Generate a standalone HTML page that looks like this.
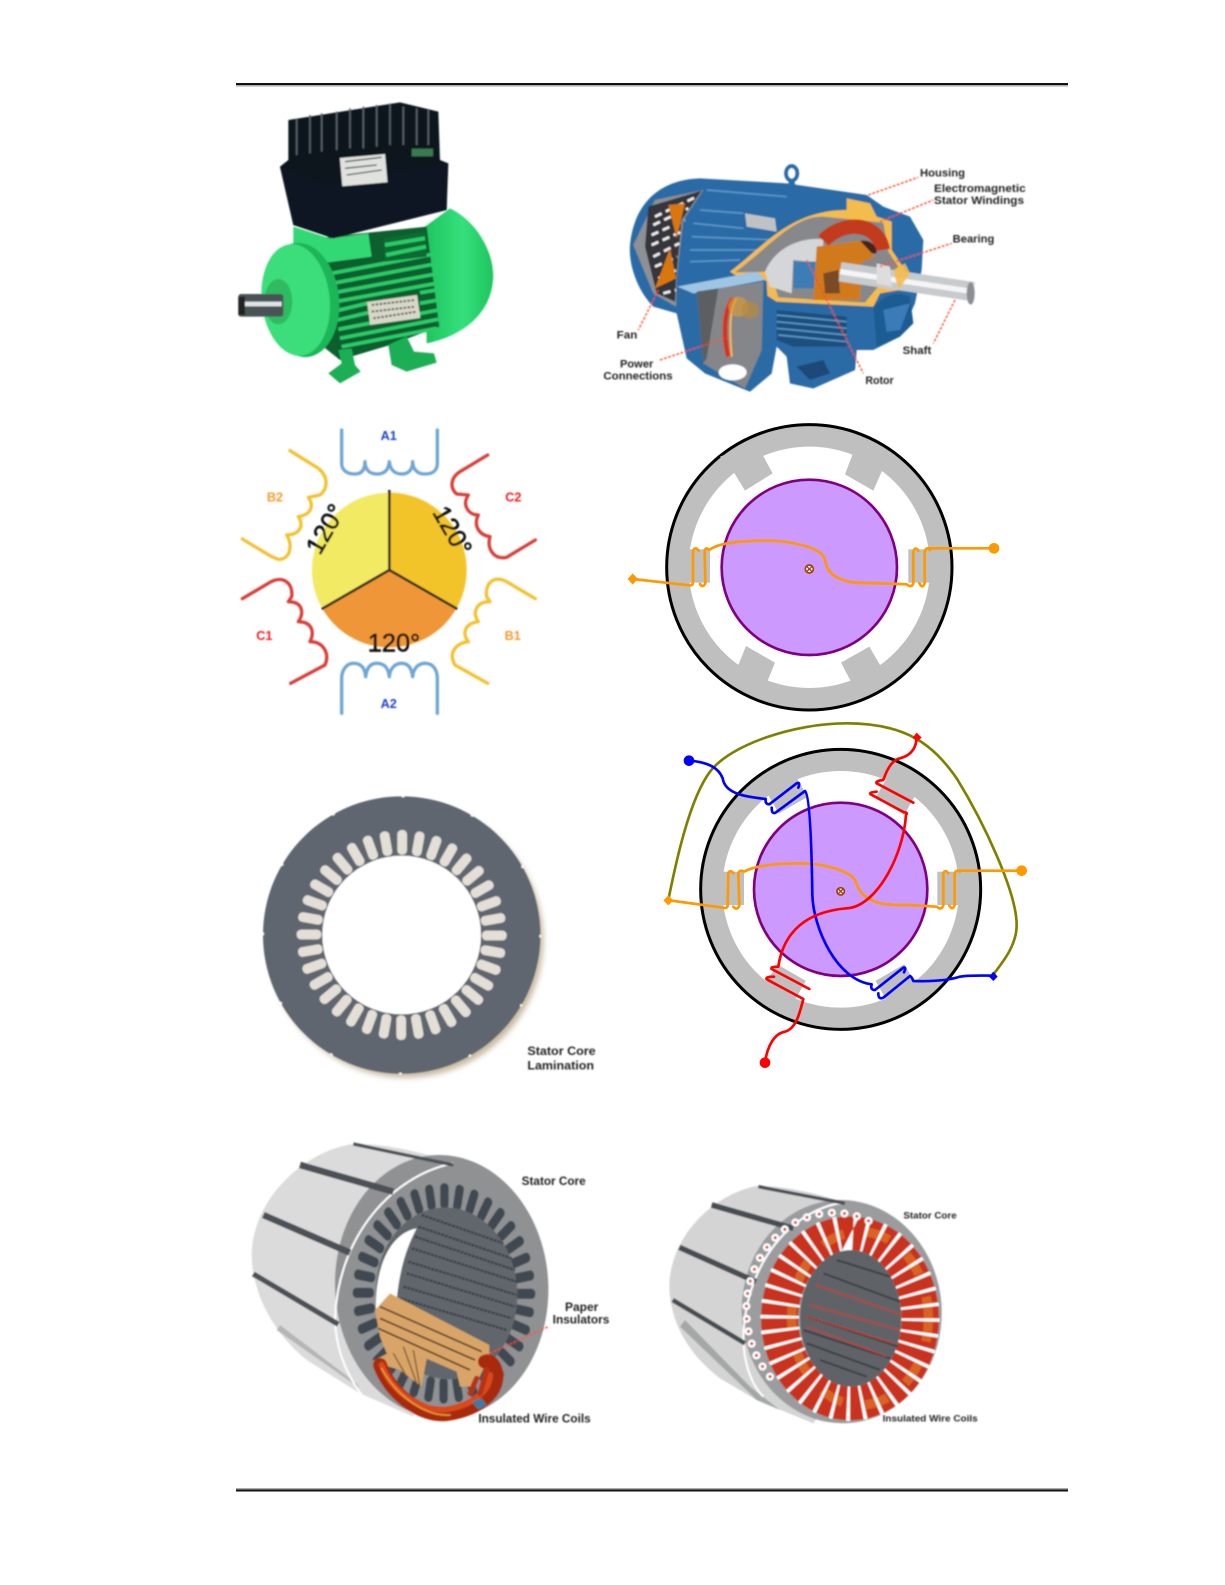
<!DOCTYPE html>
<html>
<head>
<meta charset="utf-8">
<title>Motor diagrams</title>
<style>
html,body{margin:0;padding:0;background:#fff}
svg{display:block}
text{font-family:"Liberation Sans",sans-serif}
</style>
</head>
<body>
<svg xmlns="http://www.w3.org/2000/svg" width="1225" height="1585" viewBox="0 0 1225 1585">
<defs>
<filter id="b"><feGaussianBlur stdDeviation="2.2"/></filter>
<filter id="sh" x="-20%" y="-20%" width="140%" height="140%"><feGaussianBlur stdDeviation="9"/></filter>
<linearGradient id="gr" x1="0" y1="0" x2="1" y2="0"><stop offset="0" stop-color="#1fc45e"/><stop offset=".55" stop-color="#35e07c"/><stop offset="1" stop-color="#1fc45e"/></linearGradient>
<g id="ring">
<rect id="s" x="469" y="155" width="29" height="74" rx="13"/>
<use href="#s" transform="rotate(10 482 470)"/><use href="#s" transform="rotate(20 482 470)"/><use href="#s" transform="rotate(30 482 470)"/><use href="#s" transform="rotate(40 482 470)"/><use href="#s" transform="rotate(50 482 470)"/><use href="#s" transform="rotate(60 482 470)"/><use href="#s" transform="rotate(70 482 470)"/><use href="#s" transform="rotate(80 482 470)"/><use href="#s" transform="rotate(90 482 470)"/><use href="#s" transform="rotate(100 482 470)"/><use href="#s" transform="rotate(110 482 470)"/><use href="#s" transform="rotate(120 482 470)"/><use href="#s" transform="rotate(130 482 470)"/><use href="#s" transform="rotate(140 482 470)"/><use href="#s" transform="rotate(150 482 470)"/><use href="#s" transform="rotate(160 482 470)"/><use href="#s" transform="rotate(170 482 470)"/><use href="#s" transform="rotate(180 482 470)"/><use href="#s" transform="rotate(190 482 470)"/><use href="#s" transform="rotate(200 482 470)"/><use href="#s" transform="rotate(210 482 470)"/><use href="#s" transform="rotate(220 482 470)"/><use href="#s" transform="rotate(230 482 470)"/><use href="#s" transform="rotate(240 482 470)"/><use href="#s" transform="rotate(250 482 470)"/><use href="#s" transform="rotate(260 482 470)"/><use href="#s" transform="rotate(270 482 470)"/><use href="#s" transform="rotate(280 482 470)"/><use href="#s" transform="rotate(290 482 470)"/><use href="#s" transform="rotate(300 482 470)"/><use href="#s" transform="rotate(310 482 470)"/><use href="#s" transform="rotate(320 482 470)"/><use href="#s" transform="rotate(330 482 470)"/><use href="#s" transform="rotate(340 482 470)"/><use href="#s" transform="rotate(350 482 470)"/>
</g>
</defs>
<rect width="1225" height="1585" fill="#fff"/>

<!-- header/footer rules -->
<rect x="236" y="83" width="832" height="2" fill="#111"/>
<rect x="236" y="85" width="832" height="1.5" fill="#aaa"/>
<rect x="236" y="1488" width="832" height="1.5" fill="#aaa"/>
<rect x="236" y="1489.5" width="832" height="2" fill="#111"/>

<!-- Panel 1: green motor -->
<g transform="translate(230 70) scale(.33333)" filter="url(#b)">
<path d="M585,470 L660,415 C745,455 800,560 788,640 C775,740 690,800 590,820Z" fill="url(#gr)"/>
<path d="M190,520 L300,500 L590,470 L628,770 L480,825 L330,870 L230,790Z" fill="#0d5f2e"/>
<g stroke="#2ccc67" stroke-width="11" fill="none">
<path d="M305,610 L612,552M308,640 L615,582M312,668 L618,612M316,695 L620,640M320,722 L412,700M570,668 L622,660M322,750 L415,728M570,700 L625,690M325,778 L625,720M330,805 L625,748M335,830 L620,775"/>
</g>
<path d="M460,505 L585,485 L590,560 L465,575Z" fill="#0d6a33"/>
<path d="M465,525 L585,505M468,555 L588,530" stroke="#2ccc67" stroke-width="12"/>
<path d="M190,470 L300,505 L415,490 L425,560 L290,578 L270,590 L190,570Z" fill="#33d873"/>
<path d="M325,840 L365,835 L375,885 L392,905 L330,940 L295,910 L335,880Z" fill="#1fae55"/>
<path d="M475,825 L530,800 L552,845 L612,850 L620,878 L530,905 L485,885Z" fill="#1fae55"/>
<ellipse cx="215" cy="690" rx="112" ry="172" transform="rotate(-6 215 690)" fill="#1fb558"/>
<ellipse cx="197" cy="690" rx="102" ry="168" transform="rotate(-6 197 690)" fill="#3ade7a"/>
<ellipse cx="145" cy="695" rx="42" ry="68" fill="#2dbb62"/>
<rect x="25" y="672" width="135" height="68" rx="8" fill="#4a5254"/>
<rect x="40" y="695" width="115" height="14" fill="#e0e4e6"/>
<rect x="25" y="680" width="20" height="55" fill="#222"/>
<path d="M175,150 L510,97 L625,125 L630,270 L655,280 L650,420 L310,505 L190,465 L150,290 L175,270Z" fill="#10161e"/>
<path d="M150,290 L280,340 L650,280 L650,420 L310,505 L190,465Z" fill="#0c1522"/>
<g stroke="#59606a" stroke-width="5">
<path d="M200,145 V255M240,135 V250M275,130 V245M320,125 V240M360,115 V235M400,110 V235M440,105 V230M480,100 V225M520,110 V225M560,115 V225M595,120 V225"/>
</g>
<rect x="333" y="258" width="136" height="85" fill="#dfe2dd" transform="rotate(-5 400 300)"/>
<path d="M345,275 L455,262M345,295 L440,285M350,315 L455,300" stroke="#555" stroke-width="4"/>
<rect x="545" y="236" width="64" height="23" fill="#3a7a50"/>
<rect x="415" y="685" width="152" height="70" fill="#d8d8c8" transform="rotate(-8 490 720)"/>
<path d="M425,705 L555,690M425,725 L555,710M430,745 L560,725" stroke="#666" stroke-width="6" stroke-dasharray="8 4"/>
</g>

<!-- Panel 2: cutaway motor -->
<g transform="translate(590 150) scale(.33333)" filter="url(#b)">
<path d="M120,285 C130,180 190,90 330,85 L590,100 L830,135 L880,170 L960,200 L1000,270 L995,360 L975,460 L930,560 L850,600 L800,600 L795,660 L670,715 L600,700 L590,620 L560,590 L545,670 L480,725 L345,670 L290,625 L260,490 L190,470 C140,420 115,340 120,285Z" fill="#296ba6"/>
<ellipse cx="605" cy="70" rx="17" ry="22" fill="none" stroke="#2a6ba5" stroke-width="11"/>
<path d="M598,90 L612,90 L616,105 L594,105Z" fill="#2a6ba5"/>
<g stroke="#5a97c9" stroke-width="5" fill="none"><path d="M350,120 L590,140M330,180 L460,190M310,220 L460,235M305,260 L560,270M300,300 L510,300M300,335 L450,330"/></g>
<path d="M130,285 L195,150 L340,120 L280,210 L260,390 L258,470 L190,430Z" fill="#8d9094"/>
<path d="M175,170 L335,122 L275,210 L258,390 L255,455 L200,430 L165,290Z" fill="#34363a"/>
<g stroke="#eee" stroke-width="8" stroke-dasharray="22 14"><path d="M195,200 L320,140M190,225 L295,175M185,255 L285,210M185,285 L275,245M190,320 L268,280M195,350 L262,320M205,385 L260,360M220,430 L258,420"/></g>
<path d="M235,165 L285,160 L260,265Z M195,415 L258,385 L240,295Z" fill="#d9770f"/>
<path d="M465,190 L555,205 L560,245 L470,230Z" fill="#bfc2c4"/>
<path d="M420,365 C520,290 600,180 770,180 L770,145 L840,160 L860,200 L905,215 L905,300 L945,360 L930,420 L870,430 L850,470 L560,455Z" fill="#f4bb4e"/>
<path d="M435,367 C540,290 610,197 700,200 L880,218 L895,305 L925,350 L860,415 L825,458 L565,442 L540,365Z" fill="#86888c"/>
<path d="M525,365 C555,290 640,260 700,268 L700,340 L610,330 L605,430 L540,410Z" fill="#d4d6d8"/>
<path d="M610,335 H680 L680,415 H610Z" fill="#3d7db5"/>
<path d="M700,272 C760,210 865,215 878,300" stroke="#c23a1a" stroke-width="44" fill="none"/>
<path d="M790,280 C830,260 860,280 860,310 L815,310Z" fill="#4a241a"/>
<path d="M680,290 L810,272 L855,320 L815,338 L810,450 L670,450Z" fill="#d07a1e"/>
<path d="M700,370 L745,360 L750,430 L705,430Z" fill="#7a4a28"/>
<path d="M750,365 L1150,425" stroke="#c8cbce" stroke-width="58"/>
<path d="M750,365 L1150,425" stroke="#f4f5f6" stroke-width="16"/>
<ellipse cx="1142" cy="430" rx="12" ry="34" fill="#8c8f92"/>
<path d="M860,340 L900,350 L905,410 L860,400Z" fill="#ddd"/>
<path d="M910,360 L945,340 L960,370 L925,420Z" fill="#f4bb4e" opacity=".9"/>
<path d="M850,470 C880,440 910,420 960,440 L970,520 L930,560 L860,590Z" fill="#1f5c93"/>
<path d="M880,480 L960,460 L930,540 L890,545Z" fill="#3a7cb8"/>
<path d="M560,480 L770,500 L770,590 L610,590 L560,570Z" fill="#1e4f7c"/>
<g stroke="#5a97c9" stroke-width="5"><path d="M560,495 L770,515M560,515 L770,535M560,535 L770,555M565,555 L770,575"/></g>
<path d="M595,610 L800,600 L795,660 L670,715 L600,700Z" fill="#2a6ba5"/>
<path d="M620,650 L700,630 L720,670 L660,690Z" fill="#1b4a77"/>
<path d="M260,410 L500,365 L530,395 L545,670 L480,725 L345,670 L290,620Z" fill="#2a6ba5"/>
<path d="M262,410 L500,365 L525,390 L310,430Z" fill="#9ec5e4"/>
<path d="M320,425 L520,395 L515,600 L465,715 L340,640Z" fill="#84868a"/>
<path d="M320,425 L385,415 L350,625 L340,640Z" fill="#5b5e62"/>
<ellipse cx="428" cy="667" rx="42" ry="24" fill="#fff"/>
<path d="M430,445 C400,480 400,560 415,620" stroke="#d8321a" stroke-width="14" fill="none"/>
<path d="M440,445 C415,480 420,560 425,620" stroke="#f4bb4e" stroke-width="6" fill="none"/>
<circle cx="445" cy="470" r="30" fill="#d59a3a" opacity=".7"/><circle cx="480" cy="480" r="26" fill="#b98a3a" opacity=".7"/>
<g stroke="#ff3a1c" stroke-width="4" stroke-dasharray="8 5" fill="none">
<path d="M835,135 L985,82M870,215 L1030,150M870,350 L1085,280M205,420 L145,540M210,630 L420,560M650,330 L820,670M1095,450 L1030,580"/>
</g>
<g fill="#222" font-size="34" font-weight="bold">
<text x="990" y="80" textLength="135" lengthAdjust="spacingAndGlyphs">Housing</text>
<text x="1032" y="126" textLength="275" lengthAdjust="spacingAndGlyphs">Electromagnetic</text>
<text x="1032" y="162" textLength="270" lengthAdjust="spacingAndGlyphs">Stator Windings</text>
<text x="1088" y="278" textLength="125" lengthAdjust="spacingAndGlyphs">Bearing</text>
<text x="80" y="565" textLength="62" lengthAdjust="spacingAndGlyphs">Fan</text>
<text x="90" y="652" textLength="100" lengthAdjust="spacingAndGlyphs">Power</text>
<text x="40" y="688" textLength="208" lengthAdjust="spacingAndGlyphs">Connections</text>
<text x="826" y="702" textLength="85" lengthAdjust="spacingAndGlyphs">Rotor</text>
<text x="938" y="612" textLength="86" lengthAdjust="spacingAndGlyphs">Shaft</text>
</g>
</g>

<!-- Panel 3: 120 degree windings -->
<g transform="translate(230 420) scale(.33333)" filter="url(#b)">
<path d="M478,450 L478,218 A232,232 0 0 0 277,566Z" fill="#f2ea64"/>
<path d="M478,450 L478,218 A232,232 0 0 1 679,566Z" fill="#f3c42c"/>
<path d="M478,450 L277,566 A232,232 0 0 0 679,566Z" fill="#ef9738"/>
<path d="M478,210 V450 L275,567M478,450 L682,567" stroke="#2a2a20" stroke-width="8" fill="none"/>
<g fill="none" stroke-width="10" stroke-linecap="round" stroke-linejoin="round">
<path d="M335,30 V130 C335,150 350,162 375,162 C395,162 405,150 405,125 C405,150 420,162 440,162 C465,162 475,150 478,125 C480,150 495,162 515,162 C535,162 548,150 548,125 C548,150 565,162 585,162 C610,162 622,150 622,130 V30" stroke="#6fa6d6"/>
<path d="M335,880 V775 C335,750 350,730 370,730 C395,730 405,745 407,770 C410,745 420,730 440,730 C465,730 475,745 478,770 C480,745 495,730 515,730 C535,730 545,745 548,770 C550,745 565,730 585,730 C610,730 622,750 622,775 V880" stroke="#6fa6d6"/>
<path d="M180,92 L265,145 C295,170 295,205 270,225 L235,232 C255,260 240,285 205,290 C225,320 205,345 170,345 C190,375 180,420 145,418 L125,410 L37,357" stroke="#f2c230"/>
<path d="M773,105 L690,155 C660,175 660,205 680,222 L715,225 C695,255 715,285 745,285 C730,315 745,345 780,350 C770,385 790,420 830,412 L916,360" stroke="#d8403a"/>
<path d="M37,536 L120,487 C160,465 190,490 185,530 L175,545 C215,545 225,575 205,605 C245,605 255,635 240,665 C280,665 300,700 285,735 L182,790" stroke="#d8403a"/>
<path d="M916,536 L830,485 C790,465 765,490 770,530 L780,545 C740,545 725,575 745,605 C705,610 695,640 715,665 C675,670 655,700 675,735 L773,790" stroke="#f2c230"/>
</g>
<g font-size="38" font-weight="bold" text-anchor="middle">
<text x="476" y="60" fill="#1f3fd0">A1</text>
<text x="476" y="864" fill="#1f3fd0">A2</text>
<text x="135" y="245" fill="#f79a2c">B2</text>
<text x="848" y="660" fill="#f79a2c">B1</text>
<text x="850" y="245" fill="#ee1f1f">C2</text>
<text x="103" y="660" fill="#ee1f1f">C1</text>
</g>
<g font-size="76" fill="#111" stroke="#111" stroke-width="2" text-anchor="middle">
<text x="492" y="694">120°</text>
<text transform="translate(309 340) rotate(-60)">120°</text>
<text transform="translate(645 345) rotate(60)">120°</text>
</g>
</g>

<!-- Panel 4: single phase stator -->
<g transform="translate(620 420) scale(.33333)">
<circle cx="568" cy="442" r="428" fill="#bfbfbf" stroke="#000" stroke-width="9"/>
<circle cx="568" cy="442" r="362" fill="#fff"/>
<path d="M342,158 L428,105 L458,160 L375,212Z M300,110 L428,60 L428,105 L342,158Z M697,105 L785,155 L760,212 L675,163Z M697,60 L830,110 L785,155 L697,105Z M378,678 L465,728 L442,785 L355,735Z M355,735 L442,785 L420,830 L310,770Z M748,680 L780,735 L693,785 L663,728Z M780,735 L830,770 L710,830 L693,785Z" fill="#bfbfbf"/>
<rect x="205" y="388" width="65" height="100" fill="#bfbfbf"/>
<rect x="865" y="388" width="65" height="100" fill="#bfbfbf"/>
<circle cx="568" cy="442" r="263" fill="#cc99ff" stroke="#800080" stroke-width="8"/>
<g fill="none" stroke="#ff9900" stroke-width="8" stroke-linecap="round" stroke-linejoin="round">
<path d="M38,477 L208,496 Q219,498 219,485 L219,392 Q226,378 236,392"/>
<path d="M240,492 Q248,505 256,490 L254,392 Q258,380 268,390 C300,365 380,362 440,362 C520,362 600,385 612,412 C620,430 615,445 640,465 C670,488 710,490 760,489 L860,493 Q875,505 880,490 L880,395 Q885,378 895,392"/>
<path d="M898,490 Q908,508 914,490 L914,395 Q920,378 930,390 L925,385 L1122,385"/>
</g>
<path d="M38,460 L54,477 L38,494 L23,477Z" fill="#ff9900"/>
<circle cx="1122" cy="385" r="16" fill="#ff9900"/>
<circle cx="568" cy="447" r="12" fill="#fff" stroke="#a04000" stroke-width="5"/>
<path d="M560,439 L576,455M576,439 L560,455" stroke="#a04000" stroke-width="4"/>
</g>

<!-- Panel 5: three phase stator -->
<g transform="translate(650 715) scale(.33333)">
<circle cx="572" cy="523" r="420" fill="#bfbfbf" stroke="#000" stroke-width="9"/>
<circle cx="572" cy="523" r="355" fill="#fff"/>
<g fill="#bfbfbf">
<rect x="215" y="470" width="67" height="100"/>
<rect x="862" y="470" width="67" height="100"/>
<rect x="215" y="470" width="67" height="100" transform="rotate(60 572 523)"/>
<rect x="215" y="470" width="67" height="100" transform="rotate(120 572 523)"/>
<rect x="215" y="470" width="67" height="100" transform="rotate(-60 572 523)"/>
<rect x="862" y="470" width="67" height="100" transform="rotate(60 572 523)"/>
</g>
<circle cx="572" cy="523" r="260" fill="#cc99ff" stroke="#800080" stroke-width="8"/>
<path d="M55,555 C80,430 120,250 180,170 C240,90 430,25 590,25 C770,25 850,90 920,190 C1000,320 1100,530 1100,630 C1100,690 1060,740 1025,785" fill="none" stroke="#808000" stroke-width="8"/>
<g fill="none" stroke-width="8" stroke-linecap="round" stroke-linejoin="round">
<g stroke="#ff9900">
<path d="M50,555 L220,578 Q233,582 233,570 L235,475 Q240,462 250,475"/>
<path d="M250,575 Q260,588 268,572 L265,475 Q270,462 282,470 C320,448 400,445 460,445 C530,447 600,470 615,495 C625,520 630,535 655,550 C690,572 730,570 780,570 L860,575 Q875,588 880,570 L880,475 Q885,462 895,475"/>
<path d="M898,572 Q908,588 914,570 L914,475 Q920,462 930,470 L925,467 L1115,467"/>
</g>
<g stroke="#0000ff">
<path d="M117,137 C165,140 205,155 218,190 C225,235 280,245 347,252 Q345,268 358,268 L440,205 Q452,200 445,218"/>
<path d="M365,278 Q365,300 378,292 L465,228 C480,240 485,400 487,540 C490,640 560,795 665,808 Q660,825 675,825 L760,758 Q770,755 762,772"/>
<path d="M685,835 Q685,855 700,848 L780,783 Q785,785 790,798 C850,800 900,795 930,785 C960,780 1000,782 1030,782"/>
</g>
<g stroke="#ff0000">
<path d="M345,1043 C352,990 375,955 405,950 C440,940 450,890 460,852 L350,793 Q345,785 372,785"/>
<path d="M478,822 L365,762 Q360,755 385,755 C400,650 470,590 590,580 C680,575 760,420 768,300 Q775,292 762,292 L662,238 Q655,232 680,230"/>
<path d="M790,263 L680,205 Q675,198 700,195 C710,165 725,135 750,130 C790,120 800,90 800,65"/>
</g>
</g>
<path d="M55,541 L70,556 L55,571 L40,556Z" fill="#ff9900"/>
<circle cx="1115" cy="467" r="16" fill="#ff9900"/>
<circle cx="117" cy="137" r="16" fill="#0000ff"/>
<circle cx="345" cy="1043" r="16" fill="#ff0000"/>
<path d="M800,53 L815,68 L800,80 L788,68Z" fill="#ff0000"/>
<path d="M1030,770 L1043,785 L1030,798 L1017,785Z" fill="#0000ff"/>
<circle cx="572" cy="529" r="11" fill="#fff" stroke="#a04000" stroke-width="5"/>
<path d="M565,522 L579,536M579,522 L565,536" stroke="#a04000" stroke-width="4"/>
</g>

<!-- Panel 6: lamination -->
<g transform="translate(240 780) scale(.33333)">
<circle cx="497" cy="480" r="413" fill="#c8b9a0" filter="url(#sh)"/>
<g filter="url(#b)">
<circle cx="485" cy="465" r="416" fill="#5e6670"/>
<circle cx="485" cy="465" r="416" fill="none" stroke="#fff" stroke-width="6" stroke-dasharray="1 29" pathLength="360"/>
<circle cx="485" cy="465" r="238" fill="#fff"/>
<use href="#ring" fill="#e4dfd6" transform="translate(3 -5)"/>
<g fill="#222" font-size="37" font-weight="bold">
<text x="862" y="825" textLength="205" lengthAdjust="spacingAndGlyphs">Stator Core</text>
<text x="862" y="868" textLength="200" lengthAdjust="spacingAndGlyphs">Lamination</text>
</g>
</g>
</g>

<!-- Panel 7: stator with paper insulators -->
<g transform="translate(240 1130) scale(.33333)" filter="url(#b)">
<path d="M340,42 C200,60 40,200 35,370 C35,480 90,600 200,690 L360,790 L520,860 L700,400 L640,100 C560,70 440,40 340,42Z" fill="#dbdbdb"/>
<path d="M110,600 L360,775 L350,760 L120,585Z" fill="#b5b5b5"/>
<ellipse cx="605" cy="470" rx="320" ry="395" transform="rotate(-3 605 470)" fill="#8f9193"/>
<path d="M640,100 C480,130 300,290 285,560 C285,640 310,720 365,795" fill="none" stroke="#fff" stroke-width="6"/>
<use href="#ring" fill="#3f4951" transform="translate(612 490) scale(.87 1.05) translate(-482 -470)"/>
<ellipse cx="620" cy="490" rx="212" ry="258" transform="rotate(-3 620 490)" fill="#60666c"/>
<path d="M530,295 C450,310 405,410 408,540 L470,510 C478,420 500,350 530,295Z" fill="#fff"/>
<g stroke="#3a4147" stroke-width="7" stroke-dasharray="9 3" fill="none">
<path d="M545,255 L790,340M535,290 L815,385M525,320 L825,420M515,355 L830,455M505,395 L830,495M500,430 L825,530M490,470 L815,565M480,505 L800,600"/>
</g>
<path d="M180,105 L460,185" stroke="#4c5156" stroke-width="20"/>
<path d="M70,255 L330,368" stroke="#4c5156" stroke-width="20"/>
<path d="M40,432 L295,583" stroke="#4c5156" stroke-width="16"/>
<path d="M340,42 L640,105" stroke="#4c5156" stroke-width="10"/>
<path d="M405,540 L450,490 L748,645 L748,680 L705,770 L660,770 L650,725 L500,660 L440,670 L420,620Z" fill="#d9a468"/>
<path d="M420,530 L725,665M420,565 L705,690M415,595 L690,720" stroke="#4f3a22" stroke-width="5"/>
<path d="M395,695 L500,640 L560,685 L545,770 L480,720Z" fill="#d9a468"/>
<path d="M460,670 L500,740M490,650 L530,760M520,660 L540,770" stroke="#7a5a32" stroke-width="4"/>
<g fill="none" stroke-linecap="round">
<path d="M420,705 C450,790 540,860 620,852 C700,840 770,800 770,735 C765,700 750,690 735,695" stroke="#a82c10" stroke-width="42"/>
<path d="M425,705 C455,785 540,845 620,838 C690,828 750,785 750,735" stroke="#d84a1c" stroke-width="18"/>
<path d="M425,715 C465,790 550,860 630,855" stroke="#e89a30" stroke-width="5"/>
<path d="M710,745 L690,790M740,720 L720,790" stroke="#b83018" stroke-width="16"/>
</g>
<path d="M695,815 L725,805 L740,825 L715,838Z" fill="#3d7ca0"/>
<path d="M750,670 L925,590" stroke="#ff3a1c" stroke-width="4" stroke-dasharray="8 5"/>
<g fill="#222" font-size="35" font-weight="bold">
<text x="845" y="165" textLength="192" lengthAdjust="spacingAndGlyphs">Stator Core</text>
<text x="975" y="543" textLength="100" lengthAdjust="spacingAndGlyphs">Paper</text>
<text x="938" y="580" textLength="170" lengthAdjust="spacingAndGlyphs">Insulators</text>
<text x="715" y="877" textLength="337" lengthAdjust="spacingAndGlyphs">Insulated Wire Coils</text>
</g>
</g>

<!-- Panel 8: wound stator -->
<g transform="translate(660 1170) scale(.33333)" filter="url(#b)">
<path d="M290,48 C170,70 30,190 28,350 C30,450 80,550 180,625 L290,690 L460,760 L700,400 L560,100 C470,70 380,48 290,48Z" fill="#d4d4d4"/>
<path d="M60,470 L290,690 L360,720 L270,650 L75,450Z" fill="#a5a7a7"/>
<ellipse cx="545" cy="425" rx="300" ry="335" transform="rotate(-3 545 425)" fill="#9a9c9e"/>
<path d="M555,98 C420,110 260,250 250,500 C250,570 270,640 310,680" fill="none" stroke="#fff" stroke-width="6"/>
<path d="M155,105 L400,175" stroke="#474d52" stroke-width="17"/>
<path d="M58,232 L288,335" stroke="#474d52" stroke-width="17"/>
<path d="M38,390 L255,520" stroke="#474d52" stroke-width="14"/>
<path d="M295,50 L555,100" stroke="#474d52" stroke-width="10"/>
<ellipse cx="570" cy="445" rx="211" ry="250" fill="none" stroke="#c9321c" stroke-width="112"/>
<ellipse cx="600" cy="445" rx="205" ry="260" fill="none" stroke="#e88a2c" stroke-width="28" stroke-dasharray="70 70" opacity=".55"/>
<ellipse cx="570" cy="445" rx="211" ry="250" fill="none" stroke="#fff" stroke-width="116" stroke-dasharray="2.2 7.8" pathLength="360"/>
<path d="M330,620 A262,292 0 0 1 640,160" fill="none" stroke="#fff" stroke-width="24" stroke-linecap="round" stroke-dasharray="0 38"/>
<path d="M330,620 A262,292 0 0 1 640,160" fill="none" stroke="#c9321c" stroke-width="9" stroke-linecap="round" stroke-dasharray="0 38"/>
<ellipse cx="572" cy="445" rx="152" ry="205" fill="#5f6468"/>
<g stroke="#3c4044" stroke-width="6" fill="none"><path d="M530,270 L690,320M490,310 L720,395M440,440 L715,530M430,480 L690,565M440,520 L660,600M480,570 L620,620"/></g>
<g stroke="#d0301c" stroke-width="5" stroke-dasharray="8 3" fill="none"><path d="M470,345 L725,435M450,405 L720,480M440,440 L700,520M440,470 L680,560"/></g>
<g fill="#222" font-size="28" font-weight="bold">
<text x="730" y="145" textLength="160" lengthAdjust="spacingAndGlyphs">Stator Core</text>
<text x="668" y="755" textLength="285" lengthAdjust="spacingAndGlyphs">Insulated Wire Coils</text>
</g>
</g>
</svg>
</body>
</html>
